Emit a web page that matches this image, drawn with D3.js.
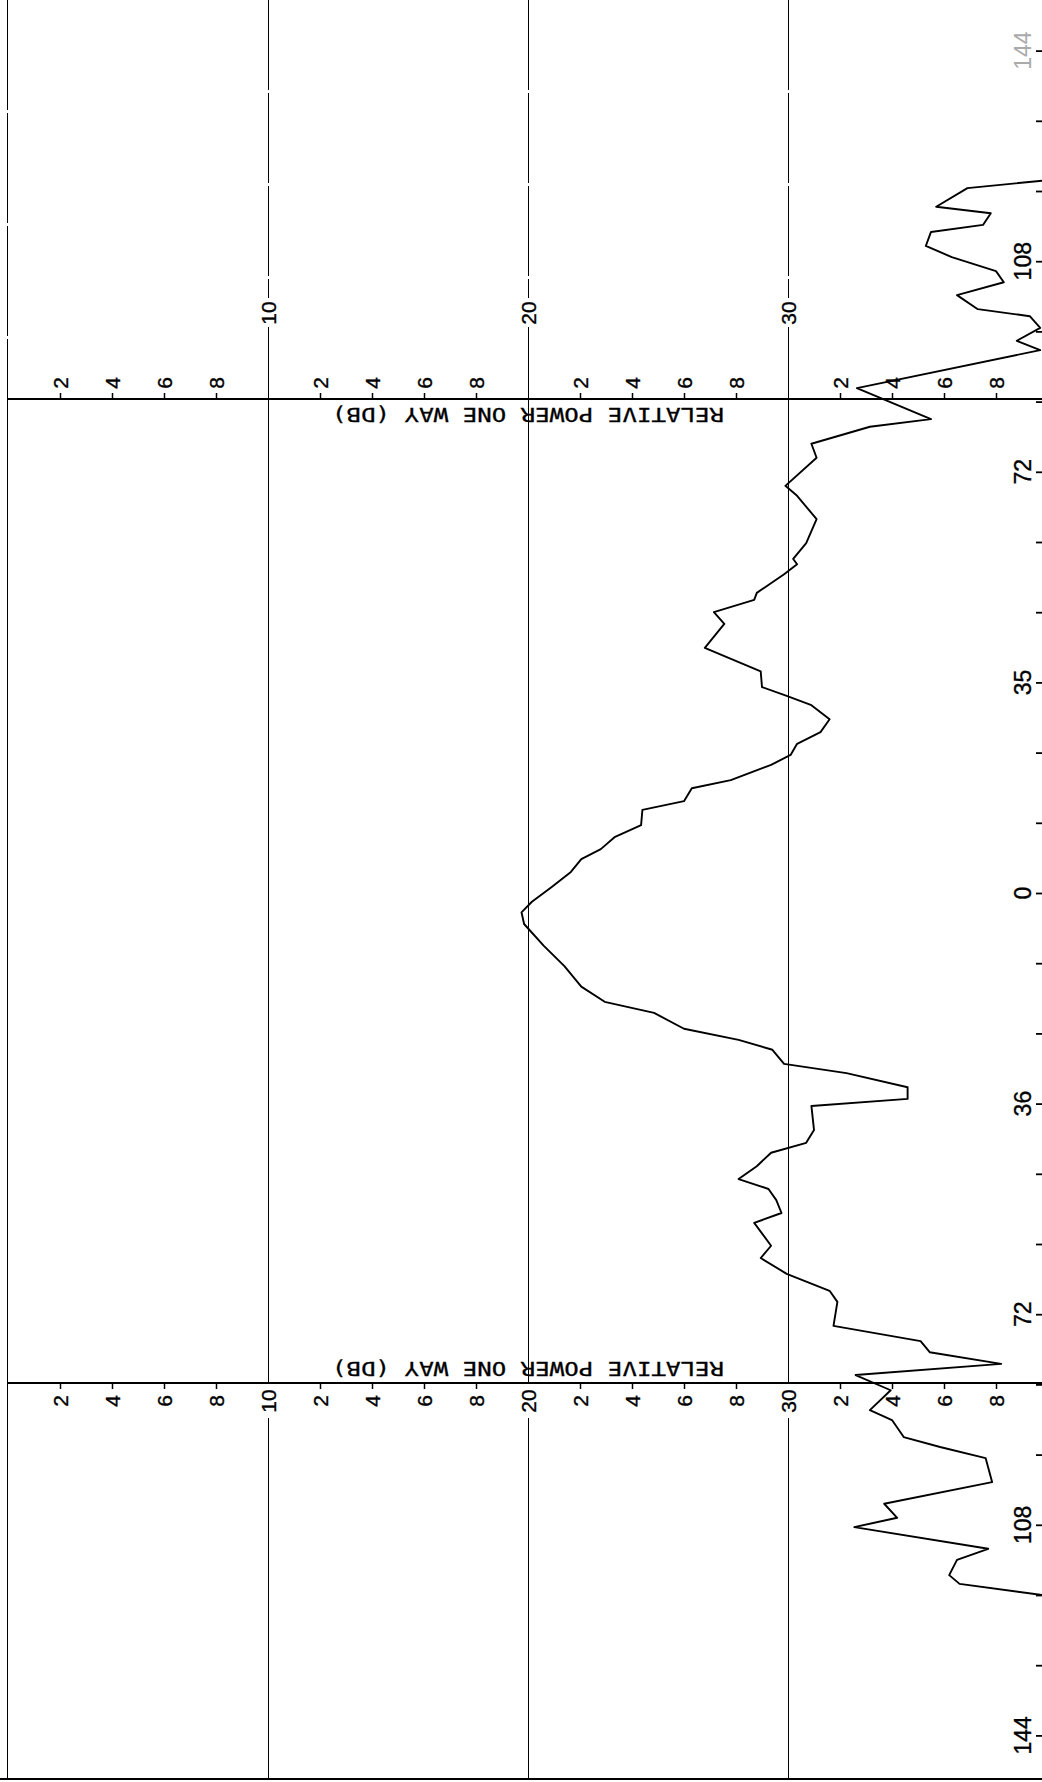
<!DOCTYPE html>
<html>
<head>
<meta charset="utf-8">
<script src="https://cdn.jsdelivr.net/npm/d3@7"></script>
<style>
  html, body { margin: 0; padding: 0; background: #fff; }
  svg { display: block; }
</style>
</head>
<body>
<script>
// ---------- data ----------
// angle in degrees (negative = upper half of the sheet), relative power in dB
const angleDeg = [
  -121.9, -120.5, -117.3, -116.2, -114.2, -113.0, -110.6, -108.7, -106.3, -104.4,
  -102.2, -99.8, -98.6, -96.6, -94.4, -92.8, -86.3, -81.0, -79.7, -76.8,
  -74.4, -69.6, -67.9, -63.9, -59.8, -57.1, -56.2, -54.5, -51.3, -50.1,
  -48.0, -46.0, -41.9, -37.9, -35.2, -33.7, -32.1, -29.7, -27.5, -25.5,
  -23.6, -21.9, -19.3, -17.9, -15.7, -14.2, -11.6, -9.6, -7.5, -5.8,
  -3.6, -1.0, 1.5, 3.3, 5.3, 9.0, 12.5, 16.0, 18.6, 20.5,
  23.2, 25.1, 26.8, 29.2, 30.8, 33.2, 35.2, 36.4, 40.5, 42.7,
  44.4, 46.7, 48.9, 50.6, 52.5, 54.7, 56.4, 60.3, 62.4, 65.1,
  68.0, 69.9, 74.0, 76.6, 78.5, 80.5, 82.4, 85.0, 88.4, 90.1,
  93.0, 94.7, 96.6, 100.7, 104.4, 106.8, 108.4, 112.1, 114.0, 116.6,
  118.1, 120.2
];
const relPowerDb = [
  40.1, 36.9, 35.7, 37.8, 37.5, 35.5, 35.3, 36.3, 38.0, 38.3,
  36.5, 37.3, 39.3, 39.7, 38.8, 39.7, 32.65, 35.5, 33.15, 30.9,
  31.1, 29.9, 30.35, 31.1, 30.7, 30.2, 30.35, 29.85, 28.8, 28.7,
  27.15, 27.55, 26.8, 28.95, 29.0, 29.95, 30.9, 31.6, 31.25, 30.35,
  30.1, 29.35, 27.8, 26.3, 26.0, 24.4, 24.35, 23.35, 22.8, 22.05,
  21.65, 20.9, 20.15, 19.75, 19.85, 20.6, 21.4, 22.05, 22.95, 24.85,
  26.0, 28.1, 29.4, 29.85, 32.25, 34.6, 34.6, 30.9, 31.0, 30.7,
  29.35, 28.8, 28.1, 29.25, 29.55, 29.75, 28.7, 29.35, 28.95, 29.95,
  31.6, 31.9, 31.75, 35.1, 35.45, 38.2, 32.6, 33.95, 33.15, 34.0,
  34.45, 35.85, 37.6, 37.85, 33.7, 34.2, 32.55, 37.7, 36.5, 36.2,
  36.6, 40.1
];

// dB axis ticks
const dbMinorTicks = [2, 4, 6, 8, 12, 14, 16, 18, 22, 24, 26, 28, 32, 34, 36, 38];
const dbMinorLabels = ["2", "4", "6", "8", "2", "4", "6", "8", "2", "4", "6", "8", "2", "4", "6", "8"];
const dbMajorTicks = [10, 20, 30];
const dbMajorLabels = ["10", "20", "30"];

// angle axis ticks
const angleTicks = [-144, -132, -120, -108, -96, -84, -72, -60, -48, -36, -24, -12, 0,
                    12, 24, 36, 48, 60, 72, 84, 96, 108, 120, 132, 144];
const angleLabelValues = [-144, -108, -72, -36, 0, 36, 72, 108, 144];
const angleLabelTexts = ["144", "108", "72", "35", "0", "36", "72", "108", "144"];

const axisTitle = "RELATIVE POWER ONE WAY (DB)";

// ---------- layout ----------
const W = 1042, H = 1782;
const upperAxisY = 399, lowerAxisY = 1383, bottomY = 1779, leftX = 7.5;

const x = d3.scaleLinear().domain([0, 40]).range([8, 1048]);
const y = d3.scaleLinear().domain([-144, 144]).range([893 - 144 * 5.85, 893 + 144 * 5.85]);
const px = v => Math.round(x(v)) + 0.5;

const svg = d3.select("body").append("svg")
  .attr("width", W).attr("height", H)
  .attr("font-family", "'Liberation Sans', Arial, sans-serif");

svg.append("defs").append("clipPath").attr("id", "clip")
  .append("rect").attr("x", 0).attr("y", 0).attr("width", W).attr("height", H);

const g = svg.append("g").attr("clip-path", "url(#clip)");

// left border
g.append("line").attr("x1", leftX).attr("x2", leftX).attr("y1", 0).attr("y2", upperAxisY)
  .attr("stroke", "#000").attr("stroke-width", 1).attr("stroke-dasharray", "110,3");
g.append("line").attr("x1", leftX).attr("x2", leftX).attr("y1", upperAxisY).attr("y2", bottomY)
  .attr("stroke", "#000").attr("stroke-width", 1);

// vertical grid lines at major dB values, broken where the labels sit
const upperMajorLabelY = 313, lowerLabelY = 1401;
dbMajorTicks.forEach(v => {
  const gx = px(v);
  g.append("line").attr("x1", gx).attr("x2", gx).attr("y1", 0).attr("y2", upperMajorLabelY - 15)
    .attr("stroke", "#000").attr("stroke-width", 1).attr("stroke-dasharray", "90,3");
  g.append("line").attr("x1", gx).attr("x2", gx).attr("y1", upperMajorLabelY + 14).attr("y2", upperAxisY)
    .attr("stroke", "#000").attr("stroke-width", 1);
  g.append("line").attr("x1", gx).attr("x2", gx).attr("y1", upperAxisY).attr("y2", lowerAxisY)
    .attr("stroke", "#000").attr("stroke-width", 1);
  g.append("line").attr("x1", gx).attr("x2", gx).attr("y1", lowerLabelY + 17).attr("y2", bottomY)
    .attr("stroke", "#000").attr("stroke-width", 1);
});

// horizontal dB axes
[upperAxisY, lowerAxisY].forEach(ay => {
  g.append("line").attr("x1", leftX).attr("x2", W).attr("y1", ay).attr("y2", ay)
    .attr("stroke", "#000").attr("stroke-width", 2);
});
// bottom border
g.append("line").attr("x1", 0).attr("x2", W).attr("y1", bottomY).attr("y2", bottomY)
  .attr("stroke", "#000").attr("stroke-width", 2);

const labelStyle = sel => sel.attr("fill", "#000").attr("stroke", "#000").attr("stroke-width", 0.35);

// minor ticks + labels on both dB axes
dbMinorTicks.forEach((v, i) => {
  const tx = px(v);
  g.append("line").attr("x1", tx).attr("x2", tx).attr("y1", upperAxisY).attr("y2", upperAxisY - 6)
    .attr("stroke", "#000").attr("stroke-width", 1.5);
  g.append("line").attr("x1", tx).attr("x2", tx).attr("y1", lowerAxisY).attr("y2", lowerAxisY + 6)
    .attr("stroke", "#000").attr("stroke-width", 1.5);
  g.append("text").attr("transform", `translate(${tx},${upperAxisY - 16}) rotate(-90)`)
    .attr("text-anchor", "middle").attr("dy", "0.35em").attr("font-size", 21)
    .call(labelStyle).text(dbMinorLabels[i]);
  g.append("text").attr("transform", `translate(${tx},${lowerLabelY}) rotate(-90)`)
    .attr("text-anchor", "middle").attr("dy", "0.35em").attr("font-size", 21)
    .call(labelStyle).text(dbMinorLabels[i]);
});
dbMajorTicks.forEach((v, i) => {
  const tx = px(v);
  g.append("text").attr("transform", `translate(${tx},${upperMajorLabelY}) rotate(-90)`)
    .attr("text-anchor", "middle").attr("dy", "0.35em").attr("font-size", 21)
    .call(labelStyle).text(dbMajorLabels[i]);
  g.append("text").attr("transform", `translate(${tx},${lowerLabelY}) rotate(-90)`)
    .attr("text-anchor", "middle").attr("dy", "0.35em").attr("font-size", 21)
    .call(labelStyle).text(dbMajorLabels[i]);
});

// axis titles (upside down, as on the sheet)
[upperAxisY + 16, lowerAxisY - 14].forEach(ty => {
  g.append("text").attr("transform", `translate(${x(20)},${ty}) rotate(180)`)
    .attr("text-anchor", "middle").attr("dy", "0.36em")
    .attr("font-family", "'DejaVu Sans Mono', monospace").attr("font-size", 20)
    .attr("textLength", 392).attr("lengthAdjust", "spacingAndGlyphs")
    .attr("fill", "#000").attr("stroke", "#000").attr("stroke-width", 0.3)
    .text(axisTitle);
});

// angle axis on the right edge
const angAxis = d3.axisLeft(y).tickValues(angleTicks).tickSize(6).tickFormat("");
const angG = g.append("g").attr("transform", `translate(${W},0)`).call(angAxis);
angG.select(".domain").remove();
angG.selectAll(".tick line").attr("stroke", "#000").attr("stroke-width", 1.8);
angleLabelValues.forEach((v, i) => {
  const t = g.append("text").attr("transform", `translate(${W - 11},${y(v)}) rotate(-90)`)
    .attr("text-anchor", "middle").attr("font-size", 23)
    .text(angleLabelTexts[i]);
  if (v === -144) t.attr("fill", "#aaa");
  else t.call(labelStyle);
});

// pattern curve
const line = d3.line()
  .x((d, i) => x(relPowerDb[i]))
  .y((d, i) => y(angleDeg[i]));
g.append("path").datum(angleDeg)
  .attr("d", line).attr("fill", "none")
  .attr("stroke", "#000").attr("stroke-width", 1.9).attr("stroke-linejoin", "round");
</script>
</body>
</html>
